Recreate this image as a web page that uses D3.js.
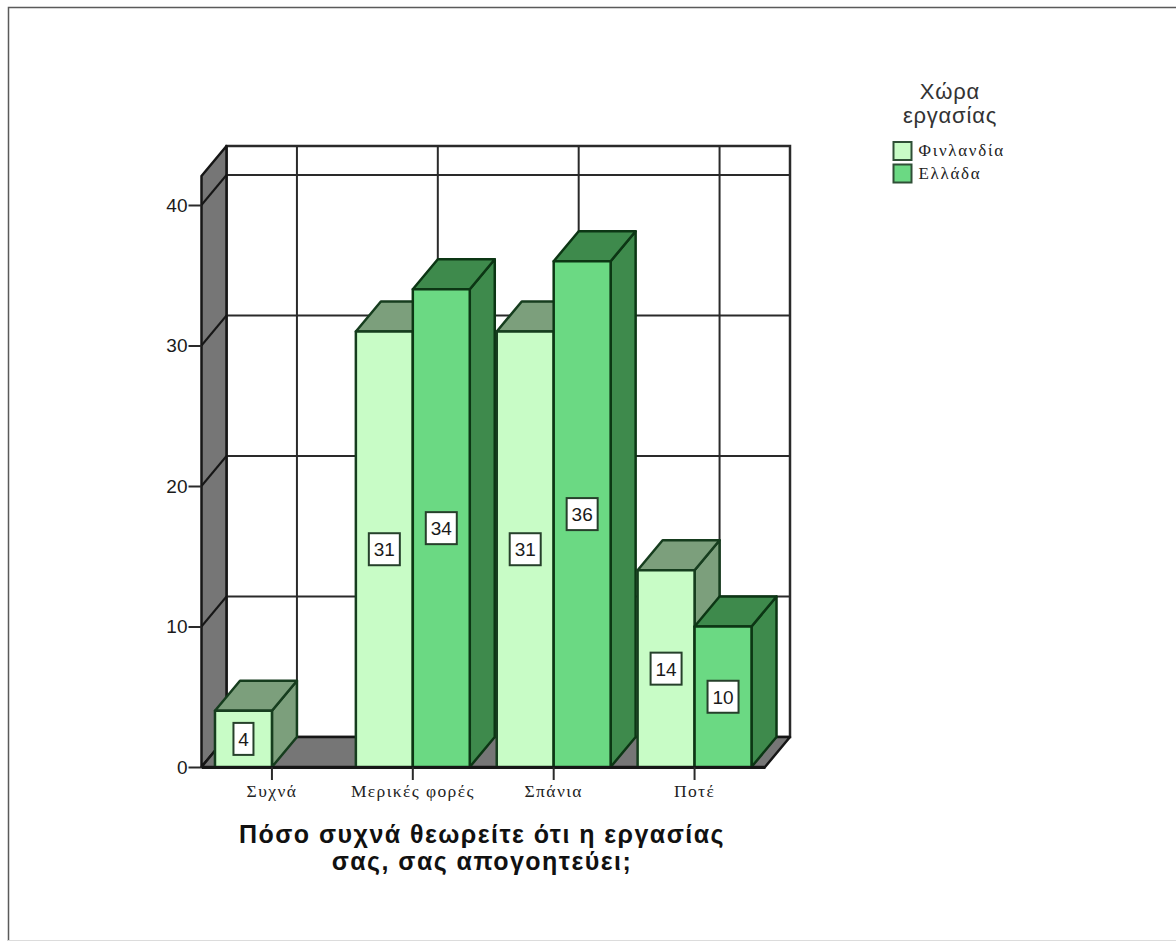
<!DOCTYPE html>
<html>
<head>
<meta charset="utf-8">
<style>
html, body { margin: 0; padding: 0; background: #fff; }
svg { display: block; }
</style>
<script src="https://cdn.jsdelivr.net/npm/d3@7"></script>
</head>
<body>
<svg id="chart" width="1176" height="941"></svg>
<script>
// Survey responses by frequency and country of work
const categories = ["Συχνά", "Μερικές φορές", "Σπάνια", "Ποτέ"];
const seriesNames = ["Φινλανδία", "Ελλάδα"];
const finland = [4, 31, 31, 14];
const greece = [0, 34, 36, 10];
const yTicks = [0, 10, 20, 30, 40];
const titleLines = ["Πόσο συχνά θεωρείτε ότι η εργασίας", "σας, σας απογοητεύει;"];
const legendTitleLines = ["Χώρα", "εργασίας"];

const W = 1176, H = 941;
const depthX = 25, depthY = -30;          // oblique offset of the back plane
const plotLeft = 201.5, plotRight = 765, plotBottom = 767;

const svg = d3.select("#chart");
const SANS = "'Liberation Sans', Arial, sans-serif";
const SERIF = "'Liberation Serif', 'DejaVu Serif', serif";
const LINE = "#2a2a2a";

const palettes = {
  "Φινλανδία": { front: "#c8fcc6", top: "#7c9f7c", side: "#7c9f7c", stroke: "#163d1e" },
  "Ελλάδα":    { front: "#6bd983", top: "#3e8a4c", side: "#3e8a4c", stroke: "#0c3614" }
};

const x = d3.scaleBand().domain(categories).range([plotLeft, plotRight])
  .paddingInner(27 / 141).paddingOuter(13.5 / 141);
const xSeries = d3.scaleBand().domain(seriesNames).range([0, x.bandwidth()]);
const y = d3.scaleLinear().domain([0, 40]).range([plotBottom, 205]);
const yMax = y.invert(176);

const pts = p => p.map(q => q.join(",")).join(" ");

// Page frame
const frame = svg.append("g").attr("fill", "none");
frame.append("path").attr("d", `M8.5,${H} V7.5 H${W}`).attr("stroke", "#5a5a5a").attr("stroke-width", 1.5);
frame.append("path").attr("d", `M8,940.5 H${W}`).attr("stroke", "#dcdcdc");

// Back wall
const backL = plotLeft + depthX, backR = plotRight + depthX;
svg.append("rect")
  .attr("x", backL).attr("y", y(yMax) + depthY)
  .attr("width", backR - backL).attr("height", y(0) - y(yMax))
  .attr("fill", "#fff").attr("stroke", LINE).attr("stroke-width", 2.5);

// Horizontal gridlines on the back wall
svg.append("g").selectAll("line").data(yTicks.slice(1)).join("line")
  .attr("x1", backL).attr("x2", backR)
  .attr("y1", d => y(d) + depthY).attr("y2", d => y(d) + depthY)
  .attr("stroke", LINE).attr("stroke-width", 2);

// Vertical gridlines on the back wall
svg.append("g").selectAll("line").data(categories).join("line")
  .attr("x1", d => x(d) + x.bandwidth() / 2 + depthX)
  .attr("x2", d => x(d) + x.bandwidth() / 2 + depthX)
  .attr("y1", y(yMax) + depthY).attr("y2", y(0) + depthY)
  .attr("stroke", LINE).attr("stroke-width", 2);

// Left wall
svg.append("polygon")
  .attr("points", pts([[plotLeft, y(yMax)], [backL, y(yMax) + depthY], [backL, y(0) + depthY], [plotLeft, y(0)]]))
  .attr("fill", "#767676").attr("stroke", "#161616").attr("stroke-width", 2.5).attr("stroke-linejoin", "round");

svg.append("g").selectAll("line").data(yTicks).join("line")
  .attr("x1", plotLeft).attr("x2", backL)
  .attr("y1", d => y(d)).attr("y2", d => y(d) + depthY)
  .attr("stroke", "#161616").attr("stroke-width", 2);

// Floor
svg.append("polygon")
  .attr("points", pts([[plotLeft, y(0)], [backL, y(0) + depthY], [backR, y(0) + depthY], [plotRight, y(0)]]))
  .attr("fill", "#767676").attr("stroke", "#161616").attr("stroke-width", 2.5).attr("stroke-linejoin", "round");

// Bars: front, top and side faces
const records = categories.flatMap((c, i) => [
  { cat: c, name: seriesNames[0], value: finland[i] },
  { cat: c, name: seriesNames[1], value: greece[i] }
]).filter(d => d.value > 0);

const bars = svg.append("g").selectAll("g").data(records).join("g")
  .attr("stroke-width", 2.5).attr("stroke-linejoin", "round");

const barL = d => x(d.cat) + xSeries(d.name);
const barR = d => barL(d) + xSeries.bandwidth();

bars.append("polygon")
  .attr("points", d => pts([[barR(d), y(d.value)], [barR(d) + depthX, y(d.value) + depthY], [barR(d) + depthX, y(0) + depthY], [barR(d), y(0)]]))
  .attr("fill", d => palettes[d.name].side).attr("stroke", d => palettes[d.name].stroke);
bars.append("polygon")
  .attr("points", d => pts([[barL(d), y(d.value)], [barL(d) + depthX, y(d.value) + depthY], [barR(d) + depthX, y(d.value) + depthY], [barR(d), y(d.value)]]))
  .attr("fill", d => palettes[d.name].top).attr("stroke", d => palettes[d.name].stroke);
bars.append("rect")
  .attr("x", barL).attr("y", d => y(d.value))
  .attr("width", xSeries.bandwidth()).attr("height", d => y(0) - y(d.value))
  .attr("fill", d => palettes[d.name].front).attr("stroke", d => palettes[d.name].stroke);

// Value labels in boxes
const labelW = d => d.value < 10 ? 20 : 31;
const labels = svg.append("g").selectAll("g").data(records).join("g")
  .attr("transform", d => `translate(${barL(d) + xSeries.bandwidth() / 2},${(y(d.value) + y(0)) / 2})`);
labels.append("rect")
  .attr("x", d => -labelW(d) / 2).attr("y", -16)
  .attr("width", labelW).attr("height", 32)
  .attr("fill", "#fff").attr("stroke", "#26402b").attr("stroke-width", 2);
labels.append("text")
  .attr("text-anchor", "middle").attr("dy", 7)
  .attr("font-family", SANS).attr("font-size", 19).attr("fill", "#1a1a1a")
  .text(d => d.value);

// Axes
const yAxis = svg.append("g").attr("transform", `translate(${plotLeft},0)`)
  .call(d3.axisLeft(y).tickValues(yTicks).tickSize(13).tickPadding(1).tickFormat(d3.format("d")));
yAxis.select(".domain").remove();
yAxis.selectAll("line").attr("stroke", LINE).attr("stroke-width", 2);
yAxis.selectAll("text").attr("font-family", SANS).attr("font-size", 19).attr("fill", "#1a1a1a");

const xAxis = svg.append("g").attr("transform", `translate(0,${plotBottom})`)
  .call(d3.axisBottom(x).tickSizeInner(13).tickSizeOuter(0).tickPadding(5));
xAxis.select(".domain").attr("stroke", "#161616").attr("stroke-width", 3);
xAxis.selectAll("line").attr("stroke", LINE).attr("stroke-width", 2);
xAxis.selectAll("text").attr("font-family", SERIF).attr("font-size", 17.5)
  .attr("letter-spacing", 1.4).attr("fill", "#222");

// Axis title
svg.append("g").selectAll("text").data(titleLines).join("text")
  .attr("x", 482).attr("y", (d, i) => 843 + i * 27)
  .attr("text-anchor", "middle")
  .attr("font-family", SANS).attr("font-weight", "bold").attr("font-size", 25)
  .attr("letter-spacing", 1.45).attr("fill", "#111")
  .text(d => d);

// Legend
svg.append("g").selectAll("text").data(legendTitleLines).join("text")
  .attr("x", 950).attr("y", (d, i) => 99 + i * 24)
  .attr("text-anchor", "middle")
  .attr("font-family", SANS).attr("font-size", 22).attr("letter-spacing", 0.8).attr("fill", "#333")
  .text(d => d);

const legend = svg.append("g").selectAll("g").data(seriesNames).join("g")
  .attr("transform", (d, i) => `translate(893.5,${142 + i * 22.5})`);
legend.append("rect")
  .attr("width", 18).attr("height", 18)
  .attr("fill", d => palettes[d].front).attr("stroke", "#2f4f36").attr("stroke-width", 2);
legend.append("text")
  .attr("x", 25).attr("y", 14)
  .attr("font-family", SERIF).attr("font-size", 17).attr("letter-spacing", 1.7).attr("fill", "#222")
  .text(d => d);
</script>
</body>
</html>
